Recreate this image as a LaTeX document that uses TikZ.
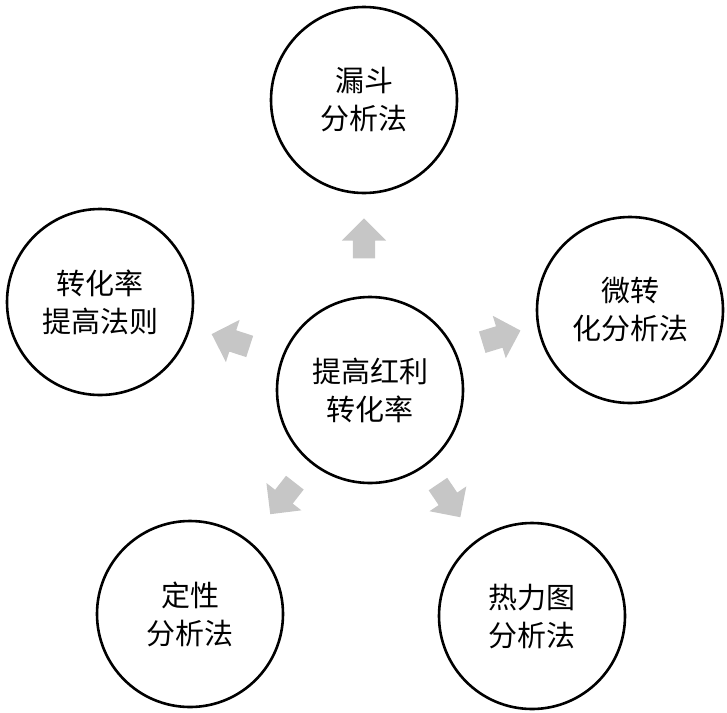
\documentclass[tikz,border=0pt]{standalone}
\usepackage{fontspec}
\setmainfont{Noto Sans CJK SC}
\usetikzlibrary{shapes.arrows}
\tikzset{ring/.style = {draw, circle, line width=2.6pt, minimum size=186pt, inner sep=0,
                        align=center, font=\fontsize{29}{38}\selectfont}}
\tikzset{blk/.style = {single arrow, fill=gray!45, draw=none, minimum height=40pt,
                       inner xsep=0pt, inner ysep=11pt, single arrow head extend=11pt}}
\begin{document}
\begin{tikzpicture}[x=1pt, y=-1pt]
  \useasboundingbox (0,0) rectangle (727,712);
  \node [ring] (hub) at (370,390) {提高红利\\转化率};
  \node [ring] (top) at (364,100) {漏斗\\分析法};
  \node [ring] (lft) at (100,302) {转化率\\提高法则};
  \node [ring] (rgt) at (630,310) {微转\\化分析法};
  \node [ring] (bl) at (190,614) {定性\\分析法};
  \node [ring] (br) at (532,616) {热力图\\分析法};
  % block arrows from hub outward
  \node [blk, rotate=90] (a1) at (364,244) {};
  \node [blk, rotate=162] (a2) at (236,342) {};
  \node [blk, rotate=17] (a3) at (496,338) {};
  \node [blk, rotate=232] (a4) at (286,494) {};
  \node [blk, rotate=304] (a5) at (446,496) {};
\end{tikzpicture}
\end{document}
